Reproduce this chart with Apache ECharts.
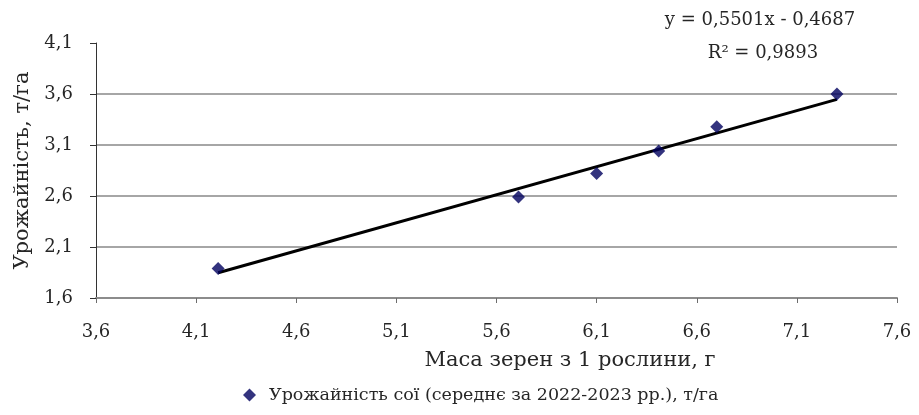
<!DOCTYPE html>
<html>
<head>
<meta charset="utf-8">
<script src="https://cdn.jsdelivr.net/npm/echarts@6/dist/echarts.min.js"></script>
<style>html,body{margin:0;padding:0;background:#fff}#c{width:919px;height:415px}</style>
</head>
<body>
<div id="c"></div>
<script>
// Data
const massPerPlant = [4.21, 5.71, 6.10, 6.41, 6.70, 7.30];
const yieldValues = [1.89, 2.59, 2.82, 3.04, 3.28, 3.60];
const trendSlope = 0.5501;
const trendIntercept = -0.4687;
const rSquared = 0.9893;
const seriesName = 'Урожайність сої (середнє за 2022-2023 рр.), т/га';
const xAxisTitle = 'Маса зерен з 1 рослини, г';
const yAxisTitle = 'Урожайність, т/га';
const xRange = [3.6, 7.6];
const yRange = [1.6, 4.1];
const tickStep = 0.5;

const points = massPerPlant.map((x, i) => [x, yieldValues[i]]);
const xMin = Math.min(...massPerPlant), xMax = Math.max(...massPerPlant);
const trend = [[xMin, trendSlope * xMin + trendIntercept], [xMax, trendSlope * xMax + trendIntercept]];
const fmt = v => v.toFixed(1).replace('.', ',');
const fmt4 = v => v.toFixed(4).replace('.', ',');
const eqText = 'y = ' + fmt4(trendSlope) + 'x - ' + fmt4(Math.abs(trendIntercept));
const r2Text = 'R² = ' + fmt4(rSquared);

const FONT = 'DejaVu Serif';
const TXT = '#262626';
const chart = echarts.init(document.getElementById('c'));
chart.setOption({
  animation: false,
  textStyle: { fontFamily: FONT },
  grid: { left: 96, right: 22, top: 43, bottom: 117, containLabel: false },
  xAxis: {
    type: 'value', min: xRange[0], max: xRange[1], interval: tickStep,
    axisLine: { show: true, onZero: false, lineStyle: { color: '#8c8c8c', width: 2 } },
    axisTick: { show: true, length: 5, lineStyle: { color: '#6c6c6c', width: 1 } },
    axisLabel: { formatter: fmt, color: TXT, fontSize: 18, fontFamily: FONT, margin: 25 },
    splitLine: { show: false }
  },
  yAxis: {
    type: 'value', min: yRange[0], max: yRange[1], interval: tickStep,
    name: yAxisTitle, nameLocation: 'middle', nameGap: 62, nameRotate: 90,
    nameTextStyle: { color: TXT, fontSize: 21, fontFamily: FONT },
    axisLine: { show: true, onZero: false, lineStyle: { color: '#333', width: 1 } },
    axisTick: { show: true, length: 6, lineStyle: { color: '#333', width: 1 } },
    axisLabel: { formatter: fmt, color: TXT, fontSize: 18, fontFamily: FONT, margin: 23 },
    splitLine: { show: true, showMinLine: false, showMaxLine: false, lineStyle: { color: '#a6a6a6', width: 2 } }
  },
  legend: {
    show: true, bottom: 6, left: 238, itemWidth: 13, itemHeight: 13, itemGap: 10,
    textStyle: { fontSize: 17.5, color: TXT, fontFamily: FONT, padding: [0, 0, 0, 8] },
    data: [{ name: seriesName, icon: 'diamond' }]
  },
  graphic: [
    { type: 'text', x: 570, y: 361, style: { text: xAxisTitle, fontSize: 21, fontFamily: FONT, fill: TXT, align: 'center', verticalAlign: 'middle' } },
    { type: 'text', x: 760, y: 20, style: { text: eqText, fontSize: 18, fontFamily: FONT, fill: TXT, align: 'center', verticalAlign: 'middle' } },
    { type: 'text', x: 763, y: 53, style: { text: r2Text, fontSize: 18, fontFamily: FONT, fill: TXT, align: 'center', verticalAlign: 'middle' } }
  ],
  series: [
    {
      name: 'trend', type: 'line', data: trend, symbol: 'none', silent: true,
      lineStyle: { color: '#000', width: 3 }, z: 2
    },
    {
      name: seriesName, type: 'scatter', data: points, symbol: 'diamond', symbolSize: 13,
      itemStyle: { color: '#00005e' }, z: 3
    }
  ]
});
</script>
</body>
</html>
